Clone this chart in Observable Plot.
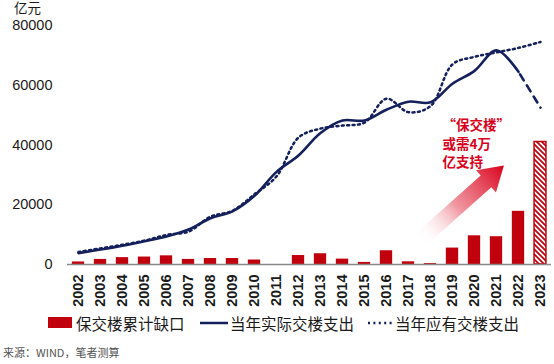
<!DOCTYPE html>
<html><head><meta charset="utf-8">
<script src="https://cdn.jsdelivr.net/npm/d3@7"></script>
<script src="https://cdn.jsdelivr.net/npm/@observablehq/plot@0.6"></script>
<style>
body{margin:0;background:#fff;}
#wrap{position:relative;width:554px;height:364px;overflow:hidden;background:#fff;}
#wrap svg{position:absolute;left:0;top:0;}
.lgtxt{position:absolute;top:313px;font-family:"Noto Sans CJK SC",sans-serif;font-size:15.5px;line-height:20px;color:#1a1a1a;white-space:nowrap;}
.sw{position:absolute;}
#src{position:absolute;left:3px;top:345px;font-family:"Noto Sans CJK SC",sans-serif;font-size:11px;line-height:14px;color:#555;}
#unit{position:absolute;left:14px;top:1px;font-family:"Liberation Sans","Noto Sans CJK SC",sans-serif;font-size:13.5px;line-height:15px;color:#1a1a1a;}
</style></head>
<body>
<div id="wrap"></div>
<script>
const years    = [2002,2003,2004,2005,2006,2007,2008,2009,2010,2011,2012,2013,2014,2015,2016,2017,2018,2019,2020,2021,2022,2023];
const gap      = [850,1700,2300,2500,2900,1700,2000,2000,1500,0,3000,3600,1800,700,4600,900,300,5500,9600,9300,17800,41000];
const actual   = [3800,5000,6300,7800,9400,11700,15500,17800,23000,31000,36500,44000,48200,48200,51800,54500,54300,60500,64800,71700,64500,52500];
const required = [4200,5400,6600,8000,9900,11000,16000,18000,23500,29500,42500,45500,46500,47500,55500,51000,53000,67000,69500,71000,72500,74500];
const yTicks   = [0,20000,40000,60000,80000];
const unitLabel = "亿元";
const seriesNames = ["保交楼累计缺口","当年实际交楼支出","当年应有交楼支出"];
const sourceText = "来源：WIND，笔者测算";
const noteText = "“保交楼”\n或需4万\n亿支持";
const note = [{x:2018.55, y:40700, t:noteText}];
const arrowPts = {x1:2017.55, y1:8000, x2:2021.36, y2:33000};

const RED = "#c0000c", NAVY = "#14205c", NOTE = "#d9001b";
const bars = years.map((year,i)=>({year, v:gap[i]}));
const act  = years.map((year,i)=>({year, v:actual[i]}));
const req  = years.map((year,i)=>({year, v:required[i]}));
const lastYear = years[years.length-1];
const DOTS = "2,3.4";

function arrowMark(index, scales){
  const g = d3.create("svg:g");
  const defs = g.append("defs");
  const pat = defs.append("pattern").attr("id","hatch").attr("patternUnits","userSpaceOnUse")
    .attr("width",5).attr("height",5);
  pat.append("rect").attr("width",5).attr("height",5).attr("fill","#fff");
  pat.append("path").attr("d","M0,0 L5,5 M-1,4 L1,6 M4,-1 L6,1").attr("stroke",RED).attr("stroke-width",1.7);
  const tx = scales.x(arrowPts.x1), ty = scales.y(arrowPts.y1);
  const px = scales.x(arrowPts.x2), py = scales.y(arrowPts.y2);
  const grad = defs.append("linearGradient").attr("id","agrad").attr("gradientUnits","userSpaceOnUse")
    .attr("x1",tx).attr("y1",ty).attr("x2",px).attr("y2",py);
  grad.append("stop").attr("offset",0).attr("stop-color","#ffffff").attr("stop-opacity",0);
  grad.append("stop").attr("offset",0.45).attr("stop-color","#ec7a86").attr("stop-opacity",0.8);
  grad.append("stop").attr("offset",1).attr("stop-color",NOTE).attr("stop-opacity",1);
  const dx = px-tx, dy = py-ty, L = Math.hypot(dx,dy);
  const ux = dx/L, uy = dy/L, nx = -uy, ny = ux;
  const HL = 24, HW = 15, SW = 8;
  const bx = px-ux*HL, by = py-uy*HL;
  const pts = [
    [tx+nx*SW, ty+ny*SW],[bx+nx*SW, by+ny*SW],[bx+nx*HW, by+ny*HW],[px,py],
    [bx-nx*HW, by-ny*HW],[bx-nx*SW, by-ny*SW],[tx-nx*SW, ty-ny*SW]];
  g.append("path").attr("d","M"+pts.map(p=>p.join(",")).join("L")+"Z").attr("fill","url(#agrad)");
  return g.node();
}

const chart = Plot.plot({
  width:554, height:310,
  marginLeft:67, marginRight:3, marginTop:25, marginBottom:46,
  x:{domain:[2001.5,2023.5]},
  y:{domain:[0,80000]},
  style:{fontFamily:"'Liberation Sans','Noto Sans CJK SC',sans-serif", color:"#1a1a1a", background:"#fff", overflow:"visible"},
  marks:[
    arrowMark,
    Plot.axisY({ticks:yTicks, tickSize:0, tickPadding:15, tickFormat:d=>String(d), label:null, fontSize:14.5}),
    Plot.axisX({ticks:years, tickSize:0, tickPadding:10, tickRotate:-90, tickFormat:d=>String(d), label:null, fontSize:14.5, fontWeight:"bold"}),
    Plot.rectY(bars, {filter:d=>d.year<lastYear, x1:d=>d.year-0.28, x2:d=>d.year+0.28, y1:0, y2:"v", fill:RED}),
    Plot.rectY(bars, {filter:d=>d.year===lastYear, x1:d=>d.year-0.27, x2:d=>d.year+0.27, y1:0, y2:"v", fill:"url(#hatch)", stroke:RED, strokeWidth:1.5}),
    Plot.ruleY([0], {stroke:"#8a8a8a", strokeWidth:1.5}),
    Plot.line(req, {x:"year", y:"v", curve:"catmull-rom", stroke:NAVY, strokeWidth:2.5, strokeDasharray:DOTS}),
    Plot.line(act, {filter:d=>d.year<=lastYear-1, x:"year", y:"v", curve:"catmull-rom", stroke:NAVY, strokeWidth:2.6}),
    Plot.line(act, {filter:d=>d.year>=lastYear-1, x:"year", y:"v", stroke:NAVY, strokeWidth:2.6, strokeDasharray:"7,6", strokeDashoffset:-3}),
    Plot.text(note, {x:"x", y:"y", text:"t", textAnchor:"start", lineAnchor:"middle", lineHeight:1.37, fill:NOTE, fontSize:13.5, fontWeight:"bold", fontFamily:"Noto Sans CJK SC"})
  ]
});

const wrap = document.getElementById("wrap");
wrap.appendChild(chart);

const unit = document.createElement("div"); unit.id="unit"; unit.textContent=unitLabel; wrap.appendChild(unit);
function addSw(left, html){ const d=document.createElement("div"); d.className="sw"; d.style.left=left+"px"; d.innerHTML=html; wrap.appendChild(d); return d; }
function addTxt(left, t){ const d=document.createElement("div"); d.className="lgtxt"; d.style.left=left+"px"; d.textContent=t; wrap.appendChild(d); }
const s1 = addSw(48, ""); s1.style.top="317px"; s1.style.width="24px"; s1.style.height="11px"; s1.style.background=RED;
addTxt(76, seriesNames[0]);
const s2 = addSw(200, `<svg width="28" height="4"><line x1="0" y1="2" x2="28" y2="2" stroke="${NAVY}" stroke-width="2.5"/></svg>`); s2.style.top="321px";
addTxt(230, seriesNames[1]);
const s3 = addSw(368, `<svg width="26" height="4"><line x1="0" y1="2" x2="26" y2="2" stroke="${NAVY}" stroke-width="2.5" stroke-dasharray="${DOTS}"/></svg>`); s3.style.top="321px";
addTxt(395, seriesNames[2]);
const src = document.createElement("div"); src.id="src"; src.textContent=sourceText; wrap.appendChild(src);
</script>
</body></html>
